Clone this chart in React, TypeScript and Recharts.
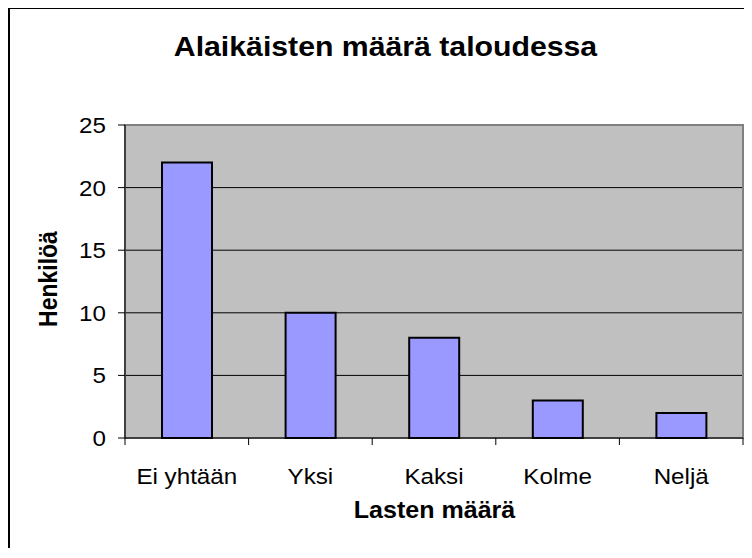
import * as React from 'react';
import { Bar, BarChart, CartesianGrid, ReferenceArea, XAxis, YAxis } from 'recharts';

const categories = ['Ei yhtään', 'Yksi', 'Kaksi', 'Kolme', 'Neljä'];
const counts = [22, 10, 8, 3, 2];
const yTicks = [0, 5, 10, 15, 20, 25];

const chartTitle = 'Alaikäisten määrä taloudessa';
const xTitle = 'Lasten määrä';
const yTitle = 'Henkilöä';

const data = categories.map((name, i) => ({ name, count: counts[i] }));

const FONT = 'Arial, "Liberation Sans", sans-serif';

function YTick(props: any) {
  const { x, y, payload } = props;
  return (
    <text transform={`translate(${x},${y + 8}) scale(1.1,1)`} textAnchor='end' fontFamily={FONT} fontSize={22} fill='#000'>
      {payload.value}
    </text>
  );
}

// Excel puts the category tick marks between the bars, not under them
function XTick(props: any) {
  const { x, y, payload } = props;
  const half = payload.offset || 0;
  const last = payload.value === categories[categories.length - 1];
  return (
    <g>
      <line x1={x - half} y1={y} x2={x - half} y2={y + 7} stroke='#000' />
      {last && <line x1={x + half} y1={y} x2={x + half} y2={y + 7} stroke='#000' />}
      <text transform={`translate(${x},${y + 46}) scale(1.1,1)`} textAnchor='middle' fontFamily={FONT} fontSize={22} fill='#000'>
        {payload.value}
      </text>
    </g>
  );
}

export default function App() {
  return (
    <div style={{ position: 'relative', width: 736, height: 540, overflow: 'hidden', background: '#fff' }}>
      <BarChart width={736} height={540} data={data} margin={{ top: 117, right: 1, bottom: 70, left: 57 }}>
        <CartesianGrid vertical={false} stroke='#000' fill='#C0C0C0' fillOpacity={1} />
        <ReferenceArea y1={0} y2={25} fill='none' stroke='#808080' strokeWidth={2} ifOverflow='visible' />
        <XAxis
          dataKey='name'
          height={40}
          axisLine={{ stroke: '#000' }}
          tickLine={false}
          tickSize={0}
          tickMargin={0}
          tick={<XTick />}
          interval={0}
        />
        <YAxis
          width={60}
          domain={[0, 25]}
          ticks={yTicks}
          interval={0}
          tickSize={7}
          tickMargin={12}
          tickLine={{ stroke: '#000' }}
          axisLine={{ stroke: '#000' }}
          tick={<YTick />}
        />
        <Bar dataKey='count' fill='#9999FF' stroke='#000' strokeWidth={2} barSize={50} isAnimationActive={false} />
      </BarChart>
      <svg width={736} height={540} style={{ position: 'absolute', left: 0, top: 0, pointerEvents: 'none' }}>
        <text transform='translate(377.5,48) scale(1.08,1)' textAnchor='middle' fontFamily={FONT} fontWeight='bold' fontSize={28} fill='#000'>
          {chartTitle}
        </text>
        <text transform='translate(426.5,510) scale(1.09,1)' textAnchor='middle' fontFamily={FONT} fontWeight='bold' fontSize={23} fill='#000'>
          {xTitle}
        </text>
        <text transform='translate(49,271) rotate(-90) scale(1,1.1)' textAnchor='middle' fontFamily={FONT} fontWeight='bold' fontSize={23} fill='#000'>
          {yTitle}
        </text>
      </svg>
      <div style={{ position: 'absolute', left: 0, top: -1, width: 760, height: 560, borderTop: '2px solid #000', borderLeft: '2px solid #000' }} />
    </div>
  );
}
